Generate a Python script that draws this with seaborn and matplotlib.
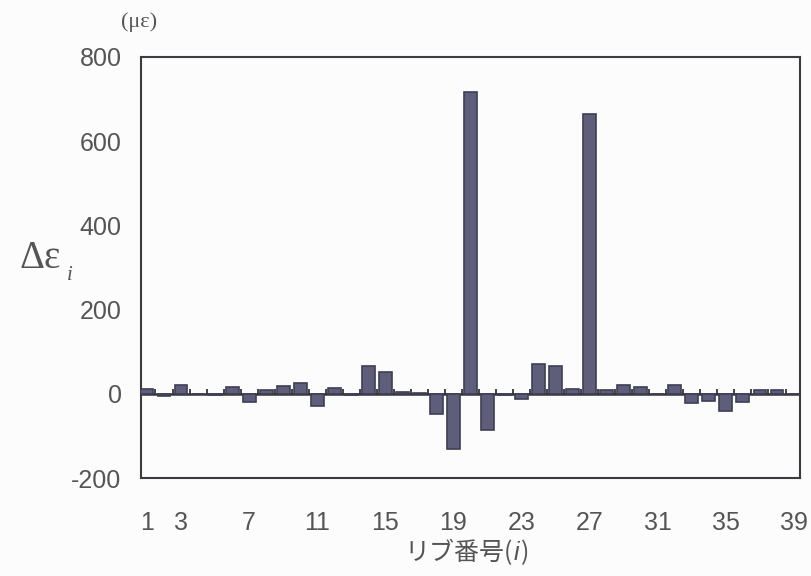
import numpy as np
import pandas as pd
import seaborn as sns
import matplotlib
matplotlib.use("Agg")
import matplotlib.pyplot as plt

# Strain change per rib (με)
ribs = list(range(1, 40))
strain = [12, -5, 20, 0, -2, 16, -20, 10, 18, 26,
          -28, 14, -2, 65, 52, 4, 3, -47, -130, 718,
          -87, -2, -12, 70, 65, 11, 665, 8, 22, 16,
          0, 22, -22, -16, -40, -20, 10, 8, 0]
tick_ribs = [1, 3, 7, 11, 15, 19, 23, 27, 31, 35, 39]
y_ticks = [-200, 0, 200, 400, 600, 800]

df = pd.DataFrame({"rib": ribs, "strain": strain})

sns.set_theme(style="white")
plt.rcParams["font.family"] = ["Liberation Sans", "DejaVu Sans"]

fig = plt.figure(figsize=(8.12, 5.76), dpi=100)
fig.patch.set_facecolor("#fcfcfc")
ax = fig.add_axes([141 / 812, 1 - 478 / 576, 659 / 812, 421 / 576])
ax.set_facecolor("#fcfcfc")

bar_color = "#5e5e7a"
edge_color = "#3e3e55"
sns.barplot(data=df, x="rib", y="strain", native_scale=True, color=bar_color,
            saturation=1, edgecolor=edge_color, linewidth=1.2, width=0.76,
            ax=ax, zorder=3)

# Category axis at zero with tick marks between ribs
ax.axhline(0, color="#333338", lw=1.8, zorder=2)
ax.vlines(np.array(ribs[:-1]) + 0.5, 0, 12, color="#333338", lw=1.3, zorder=2)

ax.set_xlim(0.65, 39.35)
ax.set_ylim(-200, 800)
ax.set_xticks(tick_ribs)
ax.set_xticklabels([str(t) for t in tick_ribs])
ax.set_yticks(y_ticks)
ax.set_yticklabels([str(t) for t in y_ticks])
ax.tick_params(axis="both", length=0, labelsize=18, colors="#555555")
ax.tick_params(axis="y", pad=14)
ax.tick_params(axis="x", pad=24)
ax.set_xlabel("")
ax.set_ylabel("")

for side in ["left", "right", "top", "bottom"]:
    ax.spines[side].set_visible(True)
    ax.spines[side].set_color("#3c3c40")
    ax.spines[side].set_linewidth(1.5)

text_color = "#555555"

# Unit above the y axis
fig.text(139 / 812, 1 - 22 / 576, "(με)", family="Liberation Serif",
         fontsize=16, color=text_color, ha="center", va="center")

# Y-axis symbol Δε with italic subscript i
sym = fig.text(20 / 812, 1 - 258 / 576, "Δε", family="Liberation Serif",
               fontsize=28, color=text_color, ha="left", va="center")
ax.annotate("i", xy=(1, 0), xycoords=sym, xytext=(4, -6),
            textcoords="offset points", family="Liberation Serif",
            style="italic", fontsize=15, color=text_color,
            ha="left", va="bottom")

# X-axis label リブ番号(i) with italic i
cjk = ["Noto Sans CJK JP", "DejaVu Sans"]
lab = fig.text(404 / 812, 1 - 553 / 576, "リブ番号(", family=cjk,
               fontsize=18, color=text_color, ha="left", va="center")
ital = ax.annotate("i", xy=(1, 0.5), xycoords=lab, xytext=(1, 0),
                   textcoords="offset points", family="Liberation Sans",
                   style="italic", fontsize=18, color=text_color,
                   ha="left", va="center")
ax.annotate(")", xy=(1, 0.5), xycoords=ital, xytext=(1, 0),
            textcoords="offset points", family=cjk,
            fontsize=18, color=text_color, ha="left", va="center")

fig.savefig("out.png", dpi=100, facecolor=fig.get_facecolor())
